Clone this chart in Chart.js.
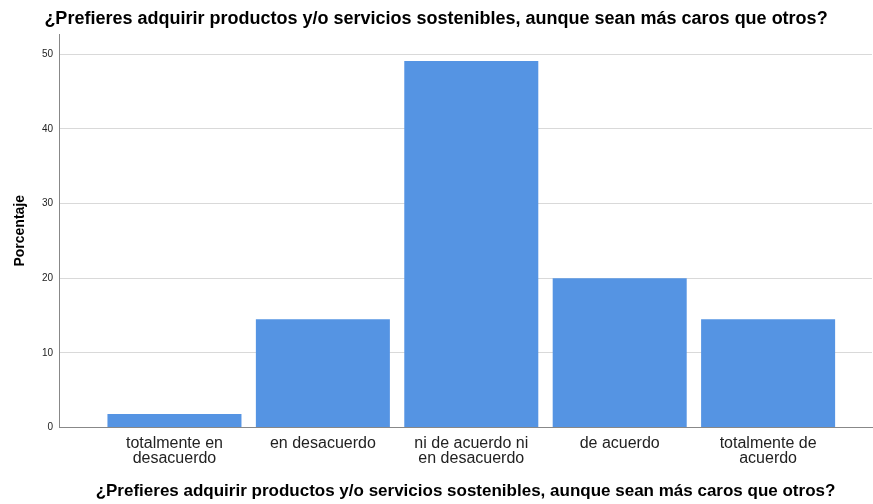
<!DOCTYPE html>
<html>
<head>
<meta charset="utf-8">
<script src="https://cdn.jsdelivr.net/npm/chart.js@4"></script>
<style>
  html, body { margin: 0; padding: 0; background: #fff; }
  #wrap { width: 873px; height: 504px; }
</style>
</head>
<body>
<div id="wrap"><canvas id="myChart" width="873" height="504"></canvas></div>
<script>
const chartTitle = '¿Prefieres adquirir productos y/o servicios sostenibles, aunque sean más caros que otros?';

const categories = [
    ['totalmente en', 'desacuerdo'],
    ['en desacuerdo'],
    ['ni de acuerdo ni', 'en desacuerdo'],
    ['de acuerdo'],
    ['totalmente de', 'acuerdo'],
];

const percentages = [1.8, 14.5, 49.1, 20.0, 14.5];

const yTicks = [0, 10, 20, 30, 40, 50];

const fontFamily = '"Liberation Sans", Arial, sans-serif';

const config = {
    type: 'bar',
    data: {
        datasets: [{
            label: 'Porcentaje',
            data: percentages.map((v, i) => ({ x: i, y: v })),
            backgroundColor: '#5594e3',
            borderWidth: 0,
            barPercentage: 0.903,
            categoryPercentage: 1,
        }]
    },
    options: {
        responsive: false,
        animation: false,
        layout: { padding: { left: 0, right: 1, top: 0, bottom: 0 } },
        plugins: {
            legend: { display: false },
            tooltip: { enabled: false },
            title: {
                display: true,
                text: chartTitle,
                color: '#000',
                font: { family: fontFamily, size: 18, weight: 'bold', lineHeight: 1.2 },
                padding: { top: 8, bottom: 4.4 },
            }
        },
        scales: {
            x: {
                type: 'linear',
                min: -0.778,
                max: 4.70,
                offset: false,
                afterBuildTicks: (scale) => {
                    scale.ticks = categories.map((c, i) => ({ value: i }));
                },
                afterFit: (scale) => { scale.height = 76.5; },
                ticks: {
                    autoSkip: false,
                    maxRotation: 0,
                    padding: 8,
                    color: '#222',
                    font: { family: fontFamily, size: 16, lineHeight: 0.95 },
                    callback: (v) => categories[v],
                },
                grid: { display: true, drawOnChartArea: false, drawTicks: false, offset: false },
                border: { display: true, color: '#888', width: 1 },
                title: {
                    display: true,
                    text: chartTitle,
                    color: '#000',
                    font: { family: fontFamily, size: 17, weight: 'bold', lineHeight: 1.2 },
                    padding: { top: 4, bottom: 2 },
                }
            },
            y: {
                min: 0,
                max: 52.7,
                afterBuildTicks: (scale) => {
                    scale.ticks = yTicks.map(v => ({ value: v }));
                },
                afterFit: (scale) => { scale.width = 59; },
                ticks: {
                    padding: 6,
                    color: '#222',
                    font: { family: fontFamily, size: 10 },
                },
                grid: { color: '#d9d9d9', drawTicks: false },
                border: { display: true, color: '#888', width: 1 },
                title: {
                    display: true,
                    text: 'Porcentaje',
                    color: '#000',
                    font: { family: fontFamily, size: 14, weight: 'bold', lineHeight: 1.2 },
                    padding: { top: 12, bottom: 4 },
                }
            }
        }
    }
};

const myChart = new Chart(document.getElementById('myChart'), config);
</script>
</body>
</html>
